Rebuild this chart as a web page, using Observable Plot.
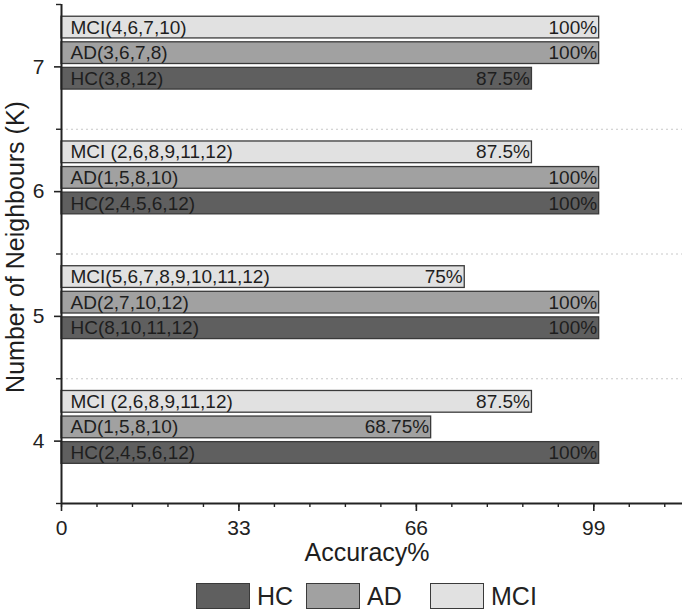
<!DOCTYPE html>
<html>
<head>
<meta charset="utf-8">
<script src="https://cdn.jsdelivr.net/npm/d3@7"></script>
<script src="https://cdn.jsdelivr.net/npm/@observablehq/plot@0.6"></script>
<style>
  html, body { margin: 0; padding: 0; background: #fff; }
  body { width: 685px; height: 612px; overflow: hidden; font-family: "Liberation Sans", Arial, sans-serif; color: #222; }
  #chart svg { display: block; }
  #legend { position: relative; width: 685px; height: 42px; }
  .item { position: absolute; top: 13px; display: flex; align-items: center; }
  .sw { width: 52px; height: 24px; border: 1.5px solid #3a3a3a; box-sizing: content-box; }
  .lab { font-size: 25px; margin-left: 7px; line-height: 26px; color: #222; }
</style>
</head>
<body>
<div id="chart"></div>
<div id="legend"></div>
<script>
// ---- data ----
const ks = [4, 5, 6, 7];
const groups = ["HC", "AD", "MCI"];
const hcValues = [100, 100, 100, 87.5];
const adValues = [68.75, 100, 100, 100];
const mciValues = [87.5, 75, 87.5, 100];
const hcLabels = ["HC(2,4,5,6,12)", "HC(8,10,11,12)", "HC(2,4,5,6,12)", "HC(3,8,12)"];
const adLabels = ["AD(1,5,8,10)", "AD(2,7,10,12)", "AD(1,5,8,10)", "AD(3,6,7,8)"];
const mciLabels = ["MCI (2,6,8,9,11,12)", "MCI(5,6,7,8,9,10,11,12)", "MCI (2,6,8,9,11,12)", "MCI(4,6,7,10)"];
const xTicks = [0, 33, 66, 99];
const yTicks = [4, 5, 6, 7];
const xTitle = "Accuracy%";
const yTitle = "Number of Neighbours (K)";

// ---- layout / style (not data) ----
const colors = {HC: "#5f5f5f", AD: "#a1a1a1", MCI: "#e1e1e1"};
const offsets = {HC: -0.095, AD: 0.11, MCI: 0.315};
const halfH = 0.087;

const valuesBy = {HC: hcValues, AD: adValues, MCI: mciValues};
const labelsBy = {HC: hcLabels, AD: adLabels, MCI: mciLabels};
const rows = [];
for (const g of groups) {
  ks.forEach((k, i) => {
    rows.push({k, group: g, value: valuesBy[g][i], name: labelsBy[g][i], yc: k + offsets[g]});
  });
}

const xMinor = d3.range(0, 115, 6.6);
const yMinor = [3.5, 4.5, 5.5, 6.5, 7.5];

const chart = Plot.plot({
  width: 685,
  height: 570,
  marginTop: 4,
  marginBottom: 67,
  marginLeft: 61,
  marginRight: 3,
  style: {fontFamily: "'Liberation Sans', Arial, sans-serif", fontSize: "21px", color: "#222", background: "#fff"},
  x: {domain: [0, 115.5]},
  y: {domain: [3.5, 7.5]},
  marks: [
    Plot.ruleY([4.5, 5.5, 6.5], {stroke: "#c8c8c8", strokeDasharray: "2,3", strokeWidth: 1}),
    Plot.rect(rows, {
      x1: d => 0, x2: "value",
      y1: d => d.yc - halfH, y2: d => d.yc + halfH,
      fill: d => colors[d.group], stroke: "#3a3a3a", strokeWidth: 1.3
    }),
    Plot.text(rows, {x: d => 0, y: "yc", text: "name", textAnchor: "start", dx: 9, fontSize: 19, fill: "#1e1e1e"}),
    Plot.text(rows, {x: "value", y: "yc", text: d => `${d.value}%`, textAnchor: "end", dx: -2, fontSize: 19, fill: "#1e1e1e"}),
    Plot.axisX({ticks: xTicks, tickSize: 8, tickPadding: 9, fontSize: 21, tickFormat: d => String(d), label: null, strokeWidth: 1.6}),
    Plot.axisX({ticks: xMinor, tickSize: 4, tickFormat: () => "", label: null, strokeWidth: 1.4}),
    Plot.axisY({ticks: yTicks, tickSize: 7, tickPadding: 10, fontSize: 21, tickFormat: d => String(d), label: null, strokeWidth: 1.6}),
    Plot.axisY({ticks: yMinor, tickSize: 5, tickFormat: () => "", label: null, strokeWidth: 1.4}),
    Plot.ruleX([0], {stroke: "#222", strokeWidth: 2}),
    Plot.ruleY([3.5], {stroke: "#222", strokeWidth: 2}),
    Plot.text([xTitle], {frameAnchor: "bottom", dy: 49, dx: -5, fontSize: 25, fill: "#1e1e1e", textAnchor: "middle", lineAnchor: "middle"}),
    Plot.text([yTitle], {frameAnchor: "left", dx: -46, dy: -7, rotate: -90, fontSize: 25, fill: "#1e1e1e", textAnchor: "middle", lineAnchor: "middle"})
  ]
});
document.getElementById("chart").appendChild(chart);

// ---- legend ----
const legendLeft = {HC: 196, AD: 306, MCI: 430};
const legend = document.getElementById("legend");
for (const g of groups) {
  const item = document.createElement("div");
  item.className = "item";
  item.style.left = legendLeft[g] + "px";
  const sw = document.createElement("div");
  sw.className = "sw";
  sw.style.background = colors[g];
  const lab = document.createElement("span");
  lab.className = "lab";
  lab.textContent = g;
  item.appendChild(sw);
  item.appendChild(lab);
  legend.appendChild(item);
}
</script>
</body>
</html>
